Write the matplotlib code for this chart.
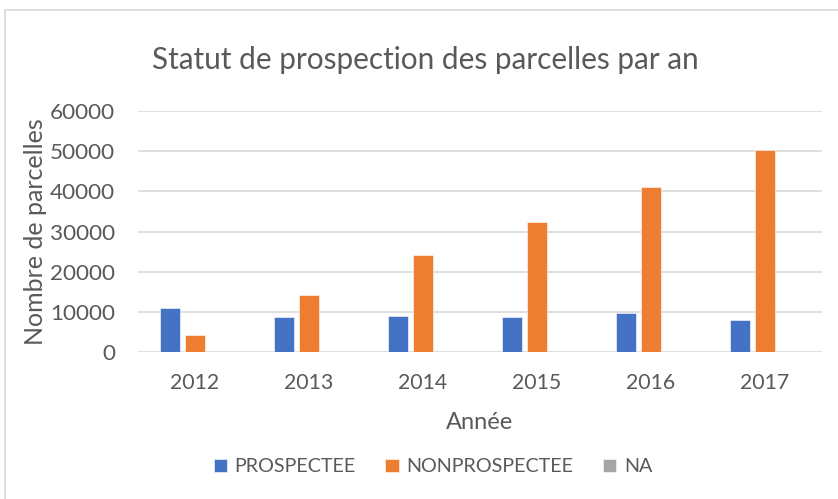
import matplotlib
matplotlib.use("Agg")
import matplotlib.pyplot as plt
from matplotlib.patches import Rectangle
import numpy as np

years = ["2012", "2013", "2014", "2015", "2016", "2017"]
prospectee = [11000, 8650, 9070, 8650, 9650, 7980]
nonprospectee = [4250, 14200, 24250, 32400, 41100, 50300]
na = [0, 0, 0, 0, 0, 0]
series_names = ["PROSPECTEE", "NONPROSPECTEE", "NA"]
colors = ["#4472C4", "#ED7D31", "#A5A5A5"]
yticks = [0, 10000, 20000, 30000, 40000, 50000, 60000]

plt.rcParams['font.family'] = ['Lato', 'DejaVu Sans']
txt = "#595959"

fig = plt.figure(figsize=(8.38, 4.99), dpi=100)
fig.patch.set_facecolor("white")
fig.patches.append(Rectangle((5/838, -0.01), 1.0, 1 - 10/499 + 0.01, transform=fig.transFigure,
                             fill=False, edgecolor="#D9D9D9", linewidth=1.2))

ax = fig.add_axes([138/838, 1 - 352/499, (822 - 138)/838, (352 - 111)/499])
x = np.arange(len(years))
w = 0.173
off = 0.222
for i, (vals, c) in enumerate(zip([prospectee, nonprospectee, na], colors)):
    ax.bar(x + (i - 1) * off, vals, width=w, color=c, label=series_names[i],
           edgecolor="white", linewidth=0.4, zorder=3)

ax.set_xlim(-0.5, len(years) - 0.5)
ax.set_ylim(0, 60000)
ax.set_yticks(yticks)
ax.set_yticklabels([str(v) for v in yticks])
ax.set_xticks(x)
ax.set_xticklabels(years)
ax.tick_params(axis="both", length=0, labelsize=15.3, colors=txt)
ax.tick_params(axis="y", pad=16.5, labelsize=16.2)
ax.tick_params(axis="x", pad=15)
ax.grid(axis="y", color="#D9D9D9", linewidth=1.2, zorder=0)
for s in ax.spines.values():
    s.set_visible(False)

ax.set_ylabel("Nombre de parcelles", fontsize=18, color=txt, va="center")
ax.yaxis.set_label_coords((35 - 138) / 684, 0.5)
ax.set_xlabel("Année", fontsize=17, color=txt, labelpad=14)

fig.text(425/838, 1 - 60/499, "Statut de prospection des parcelles par an",
         ha="center", va="center", fontsize=21.4, color=txt)

leg = ax.legend(loc="center", bbox_to_anchor=(433/838, 1 - 467/499), bbox_transform=fig.transFigure,
                ncol=3, frameon=False, fontsize=14.2, handlelength=0.66, handleheight=0.66,
                handletextpad=0.4, columnspacing=1.5)
for t in leg.get_texts():
    t.set_color(txt)

fig.savefig("out.png", dpi=100, facecolor="white")
